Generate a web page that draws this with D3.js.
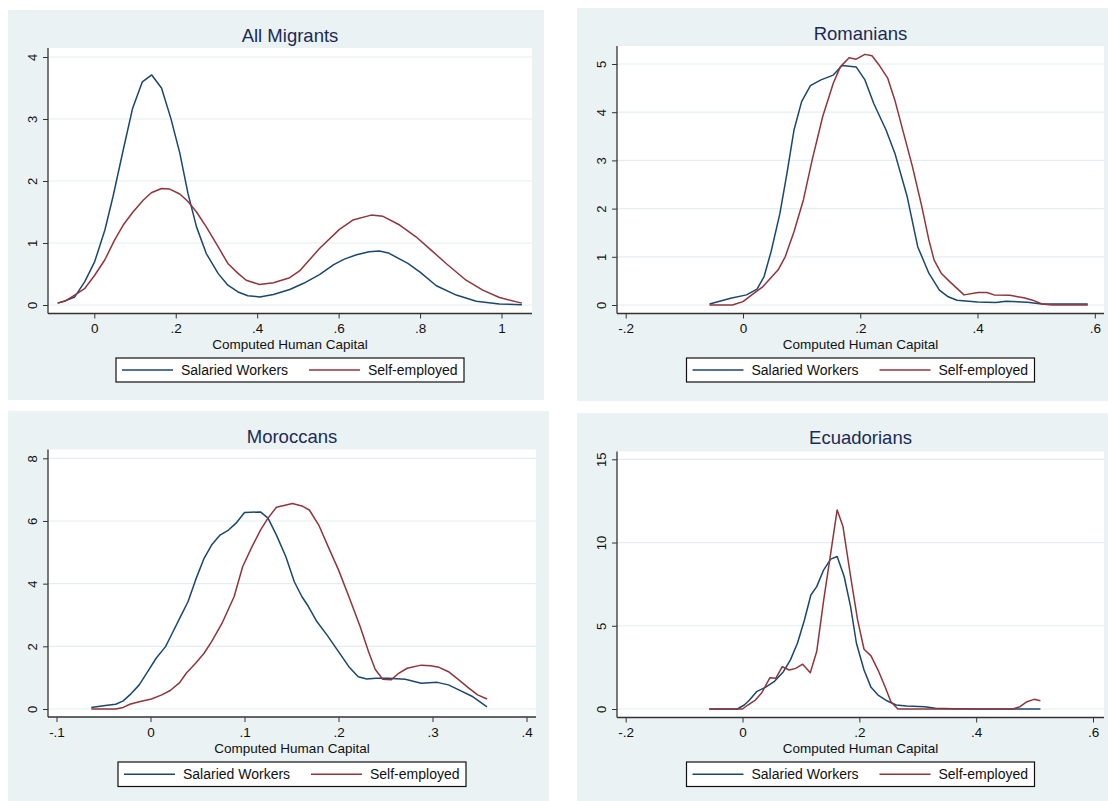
<!DOCTYPE html>
<html>
<head>
<meta charset="utf-8">
<script src="https://cdn.jsdelivr.net/npm/d3@7"></script>
<style>
  html, body { margin: 0; padding: 0; background: #ffffff; }
  svg { display: block; }
  text { font-family: "Liberation Sans", Arial, Helvetica, sans-serif; }
</style>
</head>
<body>
<svg id="chart" width="1108" height="801"></svg>
<script>
// ---------------- DATA ----------------
const panelTitles = ["All Migrants", "Romanians", "Moroccans", "Ecuadorians"];
const seriesNames = ["Salaried Workers", "Self-employed"];
const xAxisTitle = "Computed Human Capital";

const allXTicks = [0, 0.2, 0.4, 0.6, 0.8, 1];
const allYTicks = [0, 1, 2, 3, 4];
const romXTicks = [-0.2, 0, 0.2, 0.4, 0.6];
const romYTicks = [0, 1, 2, 3, 4, 5];
const morXTicks = [-0.1, 0, 0.1, 0.2, 0.3, 0.4];
const morYTicks = [0, 2, 4, 6, 8];
const ecuXTicks = [-0.2, 0, 0.2, 0.4, 0.6];
const ecuYTicks = [0, 5, 10, 15];

// All Migrants
const allSalaried = [[-0.09,0.03],[-0.07,0.07],[-0.048,0.13],[-0.023,0.38],[0.001,0.70],[0.026,1.21],[0.046,1.75],[0.071,2.50],[0.094,3.17],[0.118,3.60],[0.141,3.71],[0.165,3.50],[0.188,3.01],[0.21,2.45],[0.23,1.80],[0.251,1.26],[0.275,0.83],[0.304,0.51],[0.328,0.32],[0.353,0.21],[0.377,0.15],[0.406,0.13],[0.44,0.17],[0.48,0.25],[0.514,0.35],[0.553,0.49],[0.588,0.65],[0.614,0.74],[0.644,0.81],[0.675,0.86],[0.70,0.87],[0.722,0.84],[0.77,0.67],[0.80,0.53],[0.84,0.31],[0.889,0.16],[0.938,0.06],[0.995,0.016],[1.05,0.005]];
const allSelf = [[-0.09,0.03],[-0.07,0.07],[-0.052,0.145],[-0.023,0.27],[0.001,0.48],[0.026,0.73],[0.05,1.05],[0.071,1.29],[0.095,1.50],[0.12,1.69],[0.14,1.81],[0.165,1.88],[0.185,1.87],[0.21,1.79],[0.23,1.67],[0.251,1.50],[0.275,1.26],[0.304,0.94],[0.328,0.67],[0.353,0.51],[0.373,0.40],[0.406,0.33],[0.44,0.36],[0.48,0.44],[0.504,0.55],[0.553,0.91],[0.602,1.22],[0.635,1.37],[0.68,1.45],[0.709,1.43],[0.75,1.29],[0.79,1.10],[0.823,0.91],[0.864,0.67],[0.913,0.40],[0.954,0.24],[0.995,0.12],[1.05,0.03]];

// Romanians
const romSalaried = [[-0.057,0.02],[-0.021,0.14],[0.006,0.21],[0.024,0.33],[0.036,0.59],[0.048,1.11],[0.063,1.90],[0.075,2.73],[0.087,3.63],[0.10,4.22],[0.115,4.55],[0.133,4.67],[0.154,4.77],[0.169,4.97],[0.193,4.94],[0.208,4.67],[0.223,4.18],[0.244,3.63],[0.259,3.15],[0.28,2.25],[0.298,1.21],[0.317,0.66],[0.335,0.31],[0.35,0.17],[0.365,0.10],[0.40,0.06],[0.431,0.05],[0.449,0.08],[0.485,0.055],[0.51,0.02],[0.552,0.02],[0.588,0.02]];
const romSelf = [[-0.057,0],[-0.018,0],[0.0,0.07],[0.015,0.21],[0.033,0.37],[0.06,0.73],[0.072,1.0],[0.087,1.52],[0.103,2.18],[0.118,3.01],[0.136,3.91],[0.154,4.60],[0.166,4.94],[0.181,5.13],[0.193,5.10],[0.208,5.20],[0.22,5.17],[0.232,4.98],[0.247,4.70],[0.259,4.25],[0.274,3.56],[0.289,2.87],[0.305,2.04],[0.317,1.35],[0.326,0.93],[0.338,0.66],[0.353,0.48],[0.377,0.21],[0.401,0.26],[0.416,0.26],[0.428,0.21],[0.455,0.20],[0.479,0.15],[0.494,0.10],[0.51,0.02],[0.528,0],[0.588,0]];

// Moroccans
const morSalaried = [[-0.063,0.05],[-0.048,0.11],[-0.037,0.15],[-0.029,0.26],[-0.022,0.45],[-0.012,0.77],[-0.003,1.19],[0.006,1.62],[0.016,1.99],[0.023,2.41],[0.031,2.89],[0.040,3.43],[0.048,4.12],[0.057,4.81],[0.065,5.23],[0.074,5.55],[0.083,5.71],[0.091,5.93],[0.10,6.27],[0.117,6.29],[0.125,6.09],[0.134,5.55],[0.144,4.86],[0.153,4.06],[0.161,3.59],[0.168,3.27],[0.177,2.79],[0.189,2.31],[0.20,1.83],[0.211,1.35],[0.221,1.03],[0.23,0.96],[0.24,0.98],[0.253,0.98],[0.271,0.95],[0.288,0.82],[0.305,0.85],[0.317,0.77],[0.328,0.61],[0.343,0.39],[0.358,0.07]];
const morSelf = [[-0.063,0],[-0.037,0],[-0.029,0.05],[-0.022,0.15],[-0.012,0.23],[0.001,0.32],[0.012,0.45],[0.021,0.59],[0.031,0.84],[0.038,1.14],[0.048,1.46],[0.057,1.78],[0.065,2.15],[0.076,2.73],[0.089,3.59],[0.098,4.54],[0.108,5.18],[0.117,5.71],[0.125,6.09],[0.134,6.44],[0.151,6.56],[0.161,6.48],[0.169,6.35],[0.179,5.87],[0.189,5.18],[0.20,4.44],[0.211,3.59],[0.223,2.63],[0.232,1.83],[0.239,1.27],[0.247,0.95],[0.256,0.93],[0.264,1.14],[0.273,1.30],[0.288,1.40],[0.298,1.38],[0.307,1.33],[0.317,1.19],[0.328,0.93],[0.339,0.66],[0.348,0.45],[0.358,0.32]];

// Ecuadorians
const ecuSalaried = [[-0.057,0],[-0.033,0],[-0.009,0],[0.003,0.24],[0.012,0.54],[0.024,1.04],[0.039,1.30],[0.054,1.64],[0.070,2.24],[0.082,2.95],[0.094,3.95],[0.106,5.35],[0.117,6.85],[0.127,7.35],[0.139,8.36],[0.151,9.0],[0.162,9.16],[0.174,7.96],[0.185,6.15],[0.195,3.95],[0.208,2.34],[0.22,1.30],[0.232,0.84],[0.248,0.48],[0.263,0.24],[0.281,0.18],[0.312,0.14],[0.33,0.04],[0.36,0.02],[0.402,0],[0.463,0],[0.51,0]];
const ecuSelf = [[-0.057,0],[-0.012,0],[0.0,0],[0.009,0.24],[0.022,0.54],[0.033,0.98],[0.047,1.88],[0.057,1.84],[0.068,2.54],[0.080,2.34],[0.091,2.44],[0.103,2.69],[0.116,2.18],[0.127,3.45],[0.139,6.55],[0.151,9.36],[0.162,11.96],[0.172,10.96],[0.185,7.96],[0.197,5.35],[0.208,3.59],[0.22,3.19],[0.232,2.34],[0.244,1.34],[0.254,0.44],[0.266,0],[0.342,0],[0.463,0],[0.475,0.14],[0.487,0.44],[0.499,0.58],[0.51,0.50]];

// ---------------- LAYOUT / STYLE ----------------
const colors = ["#1a476f", "#90353b"];
const bgColor = "#eaf2f3";
const gridColor = "#e4eef0";

const panels = [
  { title: panelTitles[0], series: [allSalaried, allSelf], xTicks: allXTicks, yTicks: allYTicks,
    bg: [8, 10, 544, 400], plot: [48, 48, 532, 313.5],
    xMap: [[0, 1], [94.3, 501.5]], yMap: [[0, 4], [305, 57]],
    titleY: 42, tickLabelY: 332.5, axisTitleY: 348.5, legend: [358, 382] },
  { title: panelTitles[1], series: [romSalaried, romSelf], xTicks: romXTicks, yTicks: romYTicks,
    bg: [577, 8, 1108, 401], plot: [617, 46, 1104, 313.5],
    xMap: [[-0.2, 0.6], [625.7, 1094.8]], yMap: [[0, 5], [305, 64]],
    titleY: 40, tickLabelY: 332.5, axisTitleY: 348.5, legend: [358, 382] },
  { title: panelTitles[2], series: [morSalaried, morSelf], xTicks: morXTicks, yTicks: morYTicks,
    bg: [8, 411, 549, 801], plot: [48, 449.5, 536, 717],
    xMap: [[-0.1, 0.4], [56.5, 526.5]], yMap: [[0, 8], [709, 458.3]],
    titleY: 443, tickLabelY: 736.5, axisTitleY: 752.5, legend: [762, 786.5] },
  { title: panelTitles[3], series: [ecuSalaried, ecuSelf], xTicks: ecuXTicks, yTicks: ecuYTicks,
    bg: [577, 413, 1108, 801], plot: [617, 451.5, 1104, 717.5],
    xMap: [[-0.2, 0.6], [625.7, 1093]], yMap: [[0, 15], [709, 459.3]],
    titleY: 444, tickLabelY: 736.5, axisTitleY: 752.5, legend: [762, 786.5] }
];

const fmt = d => {
  if (d === 0) return "0";
  let s = String(+d.toFixed(4));
  return s.replace("0.", ".");
};

const svg = d3.select("#chart");

panels.forEach(p => {
  const g = svg.append("g");
  const [bx0, by0, bx1, by1] = p.bg;
  const [px0, py0, px1, py1] = p.plot;

  g.append("rect").attr("x", bx0).attr("y", by0).attr("width", bx1 - bx0).attr("height", by1 - by0)
    .attr("fill", bgColor);
  g.append("rect").attr("x", px0).attr("y", py0).attr("width", px1 - px0).attr("height", py1 - py0)
    .attr("fill", "#ffffff");

  const x = d3.scaleLinear().domain(p.xMap[0]).range(p.xMap[1]);
  const y = d3.scaleLinear().domain(p.yMap[0]).range(p.yMap[1]);

  // gridlines
  g.append("g").selectAll("line").data(p.yTicks).join("line")
    .attr("x1", px0).attr("x2", px1)
    .attr("y1", d => y(d)).attr("y2", d => y(d))
    .attr("stroke", gridColor).attr("stroke-width", 1.2);

  // y axis
  const yAxis = g.append("g").attr("transform", `translate(${px0},0)`)
    .call(d3.axisLeft(y).tickValues(p.yTicks).tickFormat(fmt).tickSize(5).tickSizeOuter(0));
  yAxis.select(".domain").remove();
  yAxis.append("line").attr("x1", 0).attr("x2", 0).attr("y1", py0).attr("y2", py1)
    .attr("stroke", "#333").attr("stroke-width", 1.3);
  yAxis.selectAll(".tick line").attr("stroke", "#333");
  yAxis.selectAll(".tick text")
    .attr("x", 0).attr("dy", null)
    .attr("transform", "translate(-11.5,0) rotate(-90)")
    .attr("text-anchor", "middle")
    .attr("font-size", 13).attr("fill", "#111");

  // x axis
  const xAxis = g.append("g").attr("transform", `translate(0,${py1})`)
    .call(d3.axisBottom(x).tickValues(p.xTicks).tickFormat(fmt).tickSize(5).tickSizeOuter(0));
  xAxis.select(".domain").remove();
  xAxis.append("line").attr("x1", px0).attr("x2", px1).attr("y1", 0).attr("y2", 0)
    .attr("stroke", "#333").attr("stroke-width", 1.3);
  xAxis.selectAll(".tick line").attr("stroke", "#333");
  xAxis.selectAll(".tick text").attr("y", p.tickLabelY - py1).attr("dy", null)
    .attr("font-size", 13.5).attr("fill", "#111");

  // curves
  const line = d3.line().x(d => x(d[0])).y(d => y(d[1]));
  p.series.forEach((s, i) => {
    g.append("path").datum(s).attr("d", line)
      .attr("fill", "none").attr("stroke", colors[i]).attr("stroke-width", 1.5)
      .attr("stroke-linejoin", "round");
  });

  const cx = (px0 + px1) / 2;
  // title
  g.append("text").attr("x", cx).attr("y", p.titleY).attr("text-anchor", "middle")
    .attr("font-size", 18.5).attr("fill", "#1c2b56").text(p.title);
  // axis title
  g.append("text").attr("x", cx).attr("y", p.axisTitleY).attr("text-anchor", "middle")
    .attr("font-size", 13.5).attr("fill", "#111").text(xAxisTitle);

  // legend
  const [ly0, ly1] = p.legend;
  const lx0 = cx - 174;
  g.append("rect").attr("x", lx0).attr("y", ly0).attr("width", 348).attr("height", ly1 - ly0)
    .attr("fill", "#ffffff").attr("stroke", "#111").attr("stroke-width", 1.2);
  const lyMid = (ly0 + ly1) / 2;
  const offs = [[6, 57, 65], [193, 244, 252]];
  seriesNames.forEach((name, i) => {
    g.append("line").attr("x1", lx0 + offs[i][0]).attr("x2", lx0 + offs[i][1])
      .attr("y1", lyMid).attr("y2", lyMid).attr("stroke", colors[i]).attr("stroke-width", 1.5);
    g.append("text").attr("x", lx0 + offs[i][2]).attr("y", lyMid + 5)
      .attr("font-size", 14).attr("fill", "#111").text(name);
  });
});
</script>
</body>
</html>
